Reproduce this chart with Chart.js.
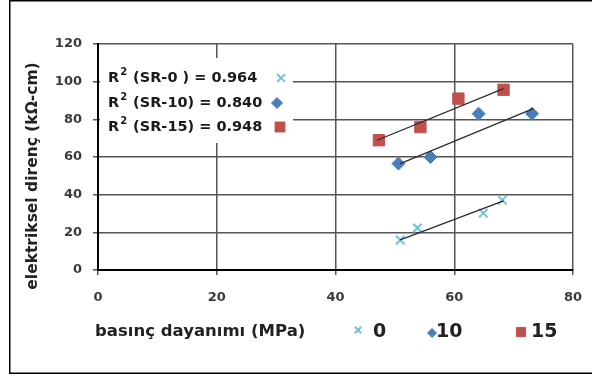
<!DOCTYPE html>
<html>
<head>
<meta charset="utf-8">
<script src="https://cdn.jsdelivr.net/npm/chart.js@4.4.0/dist/chart.umd.min.js"></script>
<style>
html, body { margin: 0; padding: 0; background: #fff; }
#grafico { display: block; }
</style>
</head>
<body>
<canvas id="grafico" width="592" height="381"></canvas>
<script>
// dados
const nomesSeries = ['0', '10', '15'];
const rotulosR2 = ['(SR-0 )', '(SR-10)', '(SR-15)'];
const valoresR2 = ['0.964', '0.840', '0.948'];

const x0 = [50.9, 53.8, 64.9, 68.1];
const y0 = [15.9, 22.3, 30.2, 37.1];
const x10 = [50.6, 56.0, 64.1, 73.1];
const y10 = [56.5, 60.0, 83.0, 83.0];
const x15 = [47.3, 54.3, 60.7, 68.3];
const y15 = [68.9, 75.9, 91.0, 95.7];

// linhas de tendencia (extremos)
const tendX0 = [50.9, 68.3];
const tendY0 = [16.0, 36.7];
const tendX10 = [50.9, 73.3];
const tendY10 = [56.5, 85.7];
const tendX15 = [47.0, 68.3];
const tendY15 = [68.9, 96.3];

const tituloX = 'basınç dayanımı (MPa)';
const tituloY = 'elektriksel direnç (kΩ-cm)';

const cores = ['#6fc3d6', '#4a7ebb', '#c0504d'];
const estilos = ['crossRot', 'rectRot', 'rect'];
const FONTE = '"DejaVu Sans", Verdana, sans-serif';

function pontos(xs, ys) {
    return xs.map((x, i) => ({ x: x, y: ys[i] }));
}

function serie(i, xs, ys) {
    return {
        label: nomesSeries[i],
        data: pontos(xs, ys),
        pointStyle: estilos[i],
        pointRadius: [6, 6.5, 8][i],
        pointBackgroundColor: cores[i],
        pointBorderColor: cores[i],
        pointBorderWidth: i === 0 ? 2 : 1,
        showLine: false,
        order: 1
    };
}

function tendencia(xs, ys) {
    return {
        label: '',
        data: pontos(xs, ys),
        showLine: true,
        borderColor: '#2a2a2a',
        borderWidth: 1.2,
        pointRadius: 0,
        order: 0
    };
}

// moldura, caixa dos R2, titulos e legenda inferior
const extras = {
    id: 'extras',
    beforeDatasetsDraw(chart) {
        const ctx = chart.ctx;
        ctx.save();
        ctx.fillStyle = '#fff';
        ctx.fillRect(100, 58, 193, 85);
        ctx.restore();
    },
    afterDraw(chart) {
        const ctx = chart.ctx;
        const h = Chart.helpers;
        ctx.save();

        // moldura
        ctx.strokeStyle = '#000';
        ctx.lineWidth = 1.5;
        ctx.beginPath();
        ctx.moveTo(592, 0.75);
        ctx.lineTo(9.75, 0.75);
        ctx.lineTo(9.75, 373.25);
        ctx.lineTo(592, 373.25);
        ctx.stroke();

        // caixa R2
        const linhas = [78, 103, 127];
        const marcX = [281, 277, 280];
        ctx.fillStyle = '#1a1a1a';
        ctx.textBaseline = 'middle';
        ctx.textAlign = 'left';
        linhas.forEach((y, i) => {
            ctx.font = 'bold 14.5px ' + FONTE;
            ctx.fillText('R', 108, y);
            let w = ctx.measureText('R').width;
            ctx.font = 'bold 10px ' + FONTE;
            ctx.fillText('2', 108 + w + 1, y - 6);
            w += ctx.measureText('2').width + 7;
            ctx.font = 'bold 14.5px ' + FONTE;
            ctx.fillText(rotulosR2[i] + ' = ' + valoresR2[i], 108 + w, y);
            ctx.fillStyle = cores[i];
            ctx.strokeStyle = cores[i];
            ctx.lineWidth = i === 0 ? 2 : 1;
            h.drawPoint(ctx, { pointStyle: estilos[i], radius: [5.5, 5.5, 7][i], rotation: 0, borderWidth: ctx.lineWidth }, marcX[i], y);
            ctx.fillStyle = '#1a1a1a';
        });

        // titulo eixo x
        ctx.font = 'bold 16.5px ' + FONTE;
        ctx.fillStyle = '#222';
        ctx.textAlign = 'left';
        ctx.fillText(tituloX, 95, 332);

        // titulo eixo y
        ctx.save();
        ctx.translate(33, 176);
        ctx.rotate(-Math.PI / 2);
        ctx.textAlign = 'center';
        ctx.font = 'bold 15.5px ' + FONTE;
        ctx.fillText(tituloY, 0, 0);
        ctx.restore();

        // legenda inferior
        const legX = [358, 432, 521];
        const legTx = [373, 436, 531];
        const legY = [330, 333, 332];
        nomesSeries.forEach((nome, i) => {
            ctx.fillStyle = cores[i];
            ctx.strokeStyle = cores[i];
            ctx.lineWidth = i === 0 ? 2 : 1;
            h.drawPoint(ctx, { pointStyle: estilos[i], radius: [4.5, 4.5, 6.5][i], rotation: 0, borderWidth: ctx.lineWidth }, legX[i], legY[i]);
            ctx.fillStyle = '#222';
            ctx.font = 'bold 19px ' + FONTE;
            ctx.textAlign = 'left';
            ctx.fillText(nome, legTx[i], 332);
        });

        ctx.restore();
    }
};

new Chart(document.getElementById('grafico'), {
    type: 'scatter',
    data: {
        datasets: [
            tendencia(tendX0, tendY0),
            tendencia(tendX10, tendY10),
            tendencia(tendX15, tendY15),
            serie(0, x0, y0),
            serie(1, x10, y10),
            serie(2, x15, y15)
        ]
    },
    options: {
        responsive: false,
        animation: false,
        devicePixelRatio: 1,
        layout: { padding: { left: 0, right: 19, top: 44, bottom: 41 } },
        plugins: {
            legend: { display: false },
            tooltip: { enabled: false }
        },
        scales: {
            x: {
                type: 'linear',
                min: 0,
                max: 80,
                afterFit: (s) => {
                    s.height = 70;
                    s.paddingLeft = 0;
                    s.paddingRight = 0;
                },
                ticks: {
                    stepSize: 20,
                    padding: 15,
                    color: '#3a3a3a',
                    font: { family: FONTE, size: 13, weight: 'bold' }
                },
                grid: { color: '#555', lineWidth: 1.5, tickLength: 5, tickColor: '#555' },
                border: { color: '#000', width: 2 }
            },
            y: {
                type: 'linear',
                min: 0,
                max: 120,
                afterFit: (s) => { s.width = 98; },
                ticks: {
                    stepSize: 20,
                    padding: 11,
                    color: '#3a3a3a',
                    font: { family: FONTE, size: 13, weight: 'bold' }
                },
                grid: { color: '#555', lineWidth: 1.5, tickLength: 5, tickColor: '#555' },
                border: { color: '#000', width: 2 }
            }
        }
    },
    plugins: [extras]
});
</script>
</body>
</html>
